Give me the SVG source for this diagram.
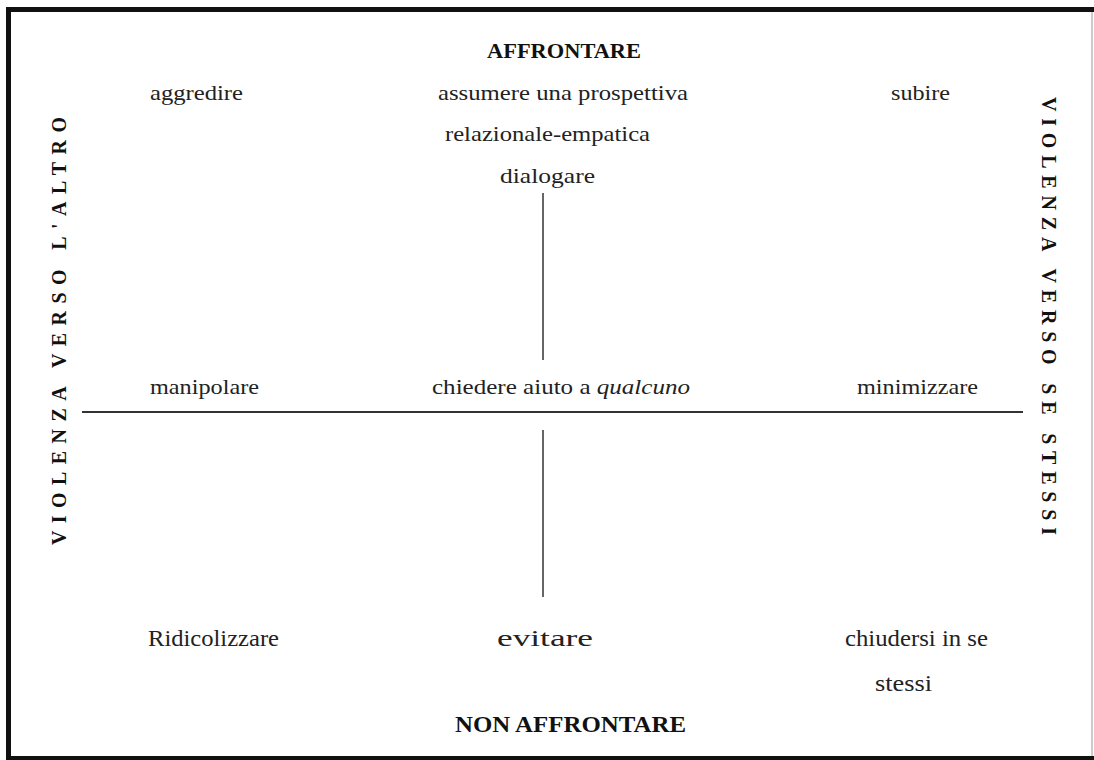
<svg xmlns="http://www.w3.org/2000/svg" width="1094" height="760" viewBox="0 0 1094 760">
<style>
.t{font-family:"Liberation Serif","Times New Roman",serif;font-size:22px;fill:#222}
.lo{font-size:24px}
.b{font-family:"Liberation Serif","Times New Roman",serif;font-size:20px;font-weight:bold;fill:#111}
.bl{font-size:23px}
.v{font-family:"Liberation Serif","Times New Roman",serif;font-size:20px;font-weight:bold;fill:#111}
.ax{stroke:#333;stroke-width:2;fill:none}
.vx{stroke:#666;stroke-width:2;fill:none}
</style>
<rect x="0" y="0" width="1094" height="760" fill="#fff"/>
<g id="frame">
<rect x="6" y="7" width="1088" height="5" fill="#111"/>
<rect x="6" y="7" width="5" height="753" fill="#111"/>
<line x1="1092" y1="12" x2="1092" y2="757" stroke="#bbb" stroke-width="1.5"/>
<rect x="6" y="756" width="1088" height="4" fill="#111"/>
</g>
<g id="connectors">
<line class="ax" x1="82" y1="412" x2="1023" y2="412"/>
<line class="vx" x1="543" y1="193" x2="543" y2="360"/>
<line class="vx" x1="543" y1="430" x2="543" y2="597"/>
</g>
<g id="title-top"><text class="b" x="487" y="58" textLength="154" lengthAdjust="spacingAndGlyphs">AFFRONTARE</text></g>
<g id="title-bottom"><text class="b bl" x="455" y="732" textLength="231" lengthAdjust="spacingAndGlyphs">NON AFFRONTARE</text></g>
<g id="label-left"><text class="v" transform="translate(66,545) rotate(-90)" x="0" y="0" textLength="428" lengthAdjust="spacing">VIOLENZA VERSO L'ALTRO</text></g>
<g id="label-right"><text class="v" transform="translate(1042,97) rotate(90)" x="0" y="0" textLength="438" lengthAdjust="spacing">VIOLENZA VERSO SE STESSI</text></g>
<g id="aggredire"><text class="t" x="150" y="100" textLength="93" lengthAdjust="spacingAndGlyphs">aggredire</text></g>
<g id="assumere">
<text class="t" x="438" y="100" textLength="250" lengthAdjust="spacingAndGlyphs">assumere una prospettiva</text>
<text class="t" x="445" y="141" textLength="205" lengthAdjust="spacingAndGlyphs">relazionale-empatica</text>
<text class="t" x="500" y="183" textLength="95" lengthAdjust="spacingAndGlyphs">dialogare</text>
</g>
<g id="subire"><text class="t" x="891" y="100" textLength="59" lengthAdjust="spacingAndGlyphs">subire</text></g>
<g id="manipolare"><text class="t" x="150" y="394" textLength="109" lengthAdjust="spacingAndGlyphs">manipolare</text></g>
<g id="chiedere"><text class="t" x="432" y="394" textLength="258" lengthAdjust="spacingAndGlyphs">chiedere aiuto a  <tspan font-style="italic">qualcuno</tspan></text></g>
<g id="minimizzare"><text class="t" x="857" y="394" textLength="121" lengthAdjust="spacingAndGlyphs">minimizzare</text></g>
<g id="ridicolizzare"><text class="t lo" x="148" y="646" textLength="131" lengthAdjust="spacingAndGlyphs">Ridicolizzare</text></g>
<g id="evitare"><text class="t lo" x="497" y="646" textLength="96" lengthAdjust="spacingAndGlyphs">evitare</text></g>
<g id="chiudersi">
<text class="t lo" x="845" y="646" textLength="143" lengthAdjust="spacingAndGlyphs">chiudersi in se</text>
<text class="t lo" x="875" y="691" textLength="57" lengthAdjust="spacingAndGlyphs">stessi</text>
</g>
</svg>
